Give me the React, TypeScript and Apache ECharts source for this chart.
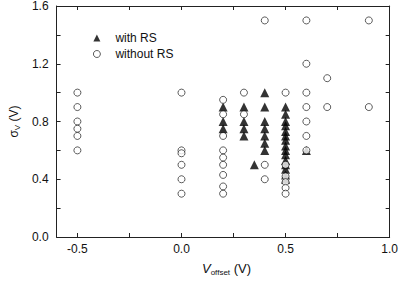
import React, { useEffect, useRef } from "react";
import * as echarts from "echarts";

// Data (x = V_offset in V, y = sigma_V in V)
const withRsX = [0.2, 0.2, 0.2, 0.3, 0.3, 0.3, 0.3, 0.35, 0.4, 0.4, 0.4, 0.4, 0.4, 0.4, 0.4,
  0.5, 0.5, 0.5, 0.5, 0.5, 0.5, 0.5, 0.5, 0.5, 0.5, 0.5, 0.5, 0.5, 0.5, 0.5, 0.6];
const withRsY = [0.9, 0.8, 0.75, 0.9, 0.8, 0.75, 0.7, 0.5, 1.0, 0.9, 0.8, 0.75, 0.7, 0.65, 0.6,
  0.9, 0.85, 0.8, 0.77, 0.73, 0.7, 0.67, 0.63, 0.6, 0.57, 0.53, 0.5, 0.47, 0.43, 0.4, 0.6];

const withoutRsX = [-0.5, -0.5, -0.5, -0.5, -0.5, -0.5,
  0, 0, 0, 0, 0, 0,
  0.2, 0.2, 0.2, 0.2, 0.2, 0.2, 0.2, 0.2, 0.2,
  0.3, 0.3,
  0.4, 0.4, 0.4,
  0.5, 0.5, 0.5, 0.5, 0.5, 0.5,
  0.6, 0.6, 0.6, 0.6, 0.6, 0.6, 0.6,
  0.7, 0.7,
  0.9, 0.9];
const withoutRsY = [1.0, 0.9, 0.8, 0.75, 0.7, 0.6,
  1.0, 0.6, 0.58, 0.5, 0.4, 0.3,
  0.95, 0.85, 0.7, 0.6, 0.55, 0.5, 0.43, 0.35, 0.3,
  1.0, 0.85,
  1.5, 0.5, 0.4,
  1.0, 0.5, 0.42, 0.38, 0.34, 0.3,
  1.5, 1.2, 1.0, 0.9, 0.8, 0.7, 0.6,
  1.1, 0.9,
  1.5, 0.9];

const xTicks = [-0.5, -0.25, 0, 0.25, 0.5, 0.75, 1.0];
const xLabels = [-0.5, 0, 0.5, 1.0];
const yTicks = [0, 0.2, 0.4, 0.6, 0.8, 1.0, 1.2, 1.4, 1.6];
const yLabels = [0, 0.4, 0.8, 1.2, 1.6];

const seriesNames = ["with RS", "without RS"];

export default function App() {
  const ref = useRef<HTMLDivElement>(null);
  useEffect(() => {
    if (!ref.current) return;
    const chart = echarts.init(ref.current, undefined, { renderer: "svg" });
    const font = "Liberation Sans, Arial, sans-serif";
    const axisColor = "#222";
    const mkX = (pos: "bottom" | "top", show: boolean) => ({
      type: "value" as const,
      position: pos,
      min: -0.6,
      max: 1.0,
      splitLine: { show: false },
      axisLine: { show: true, onZero: false, lineStyle: { color: axisColor, width: 1 } },
      axisTick: { show: true, inside: true, length: 4, customValues: xTicks, lineStyle: { color: axisColor } },
      axisLabel: {
        show,
        customValues: xLabels,
        formatter: (v: number) => v.toFixed(1),
        color: "#111",
        fontSize: 12,
        fontFamily: font,
        margin: 6,
      },
    });
    const mkY = (pos: "left" | "right", show: boolean) => ({
      type: "value" as const,
      position: pos,
      min: 0,
      max: 1.6,
      interval: 0.2,
      splitLine: { show: false },
      axisLine: { show: true, onZero: false, lineStyle: { color: axisColor, width: 1 } },
      axisTick: { show: true, inside: true, length: 4, customValues: yTicks, lineStyle: { color: axisColor } },
      axisLabel: {
        show,
        customValues: yLabels,
        formatter: (v: number) => v.toFixed(1),
        color: "#111",
        fontSize: 12,
        fontFamily: font,
        margin: 8,
      },
    });
    chart.setOption({
      animation: false,
      backgroundColor: "#fff",
      grid: { left: 44, right: 11, top: 6, bottom: 44, containLabel: false },
      legend: {
        orient: "vertical",
        left: 88,
        top: 27,
        itemWidth: 7,
        itemHeight: 7,
        itemGap: 4,
        data: [
          { name: seriesNames[0], icon: "triangle", itemStyle: { color: "#000" } },
          { name: seriesNames[1], icon: "circle", itemStyle: { color: "#fff", borderColor: "#000", borderWidth: 0.8 } },
        ],
        textStyle: { fontSize: 12, fontFamily: font, color: "#111", padding: [0, 0, 0, 10] },
      },
      xAxis: [mkX("bottom", true), mkX("top", false)],
      yAxis: [
        {
          ...mkY("left", true),
          name: "{s|σ}{sub|V}{n| (V)}",
          nameLocation: "middle",
          nameGap: 31,
          nameRotate: 90,
          nameTextStyle: {
            fontFamily: font,
            color: "#111",
            rich: {
              s: { fontSize: 12, fontFamily: font, color: "#111" },
              sub: { fontSize: 8, fontFamily: font, color: "#111", verticalAlign: "bottom", padding: [6, 0, 0, 0] },
              n: { fontSize: 12, fontFamily: font, color: "#111" },
            },
          },
        },
        mkY("right", false),
      ],
      graphic: [
        {
          type: "text",
          left: 202,
          top: 262,
          style: {
            text: "{v|V}{sub|offset}{n| (V)}",
            fontFamily: font,
            rich: {
              v: { fontSize: 13, fontStyle: "italic", fontFamily: font, fill: "#111" },
              sub: { fontSize: 8, fontFamily: font, fill: "#111", verticalAlign: "bottom", padding: [7, 0, 0, 0] },
              n: { fontSize: 13, fontFamily: font, fill: "#111" },
            },
          },
        },
      ],
      series: [
        {
          name: seriesNames[0],
          type: "scatter",
          symbol: "triangle",
          symbolSize: 9,
          itemStyle: { color: "#000" },
          z: 2,
          data: withRsX.map((x, i) => [x, withRsY[i]]),
        },
        {
          name: seriesNames[1],
          type: "scatter",
          symbol: "circle",
          symbolSize: 7,
          itemStyle: { color: "#fff", borderColor: "#000", borderWidth: 0.8 },
          z: 3,
          data: withoutRsX.map((x, i) => [x, withoutRsY[i]]),
        },
      ],
    });
    return () => chart.dispose();
  }, []);
  return <div ref={ref} style={{ width: 401, height: 281, position: "absolute", left: 0, top: 0 }} />;
}
